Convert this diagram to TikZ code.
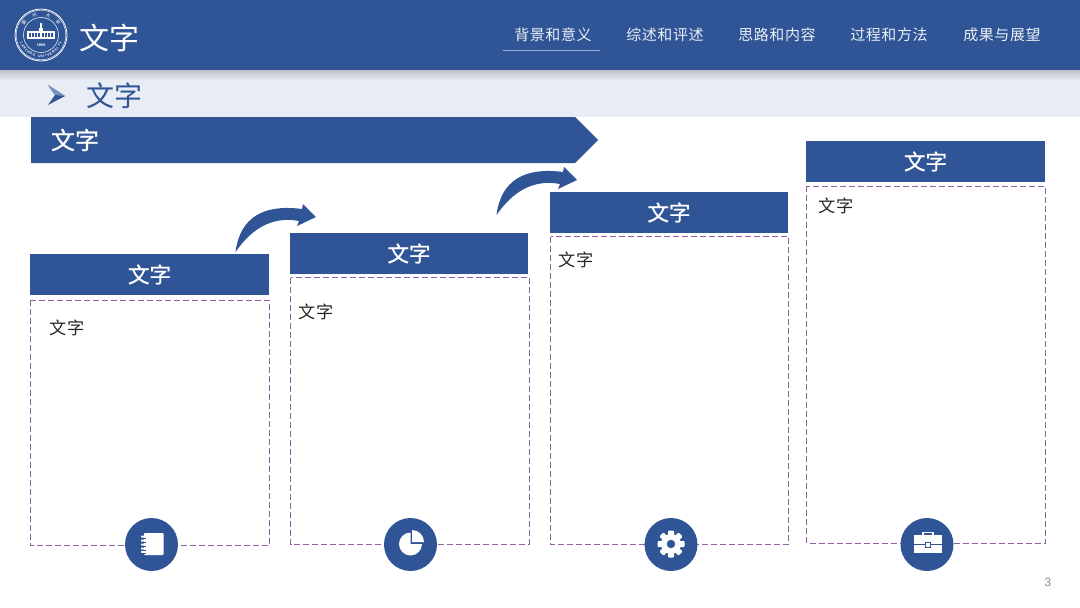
\documentclass[tikz,border=0pt]{standalone}
\usepackage{fontspec}
\setmainfont{Noto Sans CJK SC}
\setsansfont{Liberation Sans}
\usetikzlibrary{shadings}
\definecolor{navy}{HTML}{2F5597}
\definecolor{band}{HTML}{E8ECF4}
\definecolor{dashc}{HTML}{9060A0}
\tikzset{
  hdr/.style={fill=navy,draw=none,minimum height=41pt,inner sep=0pt,text=white,font=\fontsize{21.5}{21}\selectfont\addfontfeature{FakeBold=0.8}},
  dbox/.style={draw=dashc,line width=1pt,dash pattern=on 6pt off 3pt,fill=white},
  body/.style={font=\fontsize{17.2}{17}\selectfont,text=black!85,inner sep=0pt},
  disc/.style={circle,fill=navy,minimum size=53pt,inner sep=0pt},
  nav/.style={font=\fontsize{15}{15}\selectfont,text=white!90!navy,inner sep=0pt},
  ico/.style={fill=white,draw=none},
  arrowshape/.pic={\fill[navy] (235.5,252) .. controls (240,217) and (264,204) .. (302,209) -- (303,204) -- (316,217) -- (297,226) -- (299,221) .. controls (273,216) and (252,228) .. (235.5,252) -- cycle;}
}
\begin{document}
\begin{tikzpicture}[x=1pt,y=-1pt]
\useasboundingbox (0,0) rectangle (1080,608);
\fill[white] (0,0) rectangle (1080,608);
% bars
\fill[band] (0,70) rectangle (1080,117);
\shade[top color=black!18!band,bottom color=band] (0,70) rectangle (1080,80);
\fill[navy] (0,0) rectangle (1080,70);
% logo
\begin{scope}[shift={(41,35)},white]
  \draw[line width=0.8pt] (0,0) circle (26);
  \draw[line width=0.4pt] (0,0) circle (24.8);
  \draw[line width=0.5pt] (0,0) circle (17.5);
  \fill (-14,-4) rectangle (14,3.5);
  \fill (-2,-7) rectangle (2,-4);
  \fill (-0.6,-12) rectangle (0.6,-7);
  \foreach \a in {-11,-8,-5,-2,2,5,8,11} {\fill[navy] (\a-0.8,-2.5) rectangle (\a+0.8,2);}
  \foreach \a/\c in {143/蘭,108/州,70/大,36/學}{
    \node[font=\fontsize{4.5}{5}\selectfont,inner sep=0pt,rotate=\a-90] at (-\a:21) {\c};}
  \node[font=\sffamily\bfseries\fontsize{3.8}{4}\selectfont,inner sep=0pt] at (0,10) {1909};
  \foreach \c [count=\i from 0] in {L,A,N,Z,H,O,U,{ },U,N,I,V,E,R,S,I,T,Y}{
    \pgfmathsetmacro{\th}{202+\i*8}
    \node[font=\sffamily\bfseries\fontsize{3.4}{4}\selectfont,inner sep=0pt,rotate=\th+90] at (-\th:21) {\c};}
\end{scope}
\node[font=\fontsize{30}{30}\selectfont,text=white,inner sep=0pt] (title) at (109,38) {文字};
% nav
\foreach \n/\x/\t in {a/553/背景和意义,b/665/综述和评述,c/777/思路和内容,d/889/过程和方法,e/1002/成果与展望}{
  \node[nav] (nav\n) at (\x,35) {\addfontfeature{LetterSpace=4}\t};}
\coordinate (ua) at (503,50.5); \coordinate (ub) at (600,50.5);
\draw[color=white!50!navy,line width=1.6pt] (ua) -- (ub);
% sub title
\fill[navy] (48,85) -- (65,96) -- (48,105) -- (55,95) -- cycle;
\fill[white!35!navy] (48,85) -- (65,96) -- (55,95) -- cycle;
\node[font=\fontsize{28}{28}\selectfont,text=navy,inner sep=0pt] (sub) at (114,96) {文字};
% banner
\fill[navy] (31,117) -- (575,117) -- (598,140) -- (575,163) -- (31,163) -- cycle;
\node[font=\fontsize{24}{24}\selectfont\addfontfeature{FakeBold=0.8},text=white,inner sep=0pt] (ban) at (75,140) {文字};
% curved arrows
\pic {arrowshape};
\pic[shift={(261,-37)}] {arrowshape};
% boxes
\node[hdr,minimum width=239pt] (h1) at (149.5,274.5) {\raisebox{-1.5pt}{文字}};
\node[hdr,minimum width=238pt] (h2) at (409,253.5) {文字};
\node[hdr,minimum width=238pt] (h3) at (669,212.5) {文字};
\node[hdr,minimum width=239pt] (h4) at (925.5,161.5) {文字};
\draw[dbox] (30.5,300) rectangle (269,545.5);
\draw[dbox] (290.5,277.5) rectangle (529,544);
\draw[dbox] (550.5,236.5) rectangle (788.5,544);
\draw[dbox] (806.5,186) rectangle (1045,543);
\node[body] (t1) at (67,327.5) {文字};
\node[body] (t2) at (316,311.5) {文字};
\node[body] (t3) at (576,260) {文字};
\node[body] (t4) at (836,205.5) {文字};
% discs
\node[disc] (c1) at (151.5,544.5) {};
\node[disc] (c2) at (410.5,544.5) {};
\node[disc] (c3) at (671,544.5) {};
\node[disc] (c4) at (927,544.5) {};
% notebook
\fill[ico,rounded corners=0.8pt] (144,533) rectangle (163.5,555);
\foreach \y in {535.5,539.5,543.5,547.5,551}{\fill[ico,rounded corners=0.6pt] (141,\y) rectangle (146,\y+2);\fill[navy] (141,\y+2) rectangle (146,\y+3);}
% pie
\fill[ico] (410.5,532.5) arc[start angle=-90,end angle=-360,radius=11.5] -- (410.5,544) -- cycle;
\fill[ico] (412,530) -- (412,542) -- (424,542) arc[start angle=0,end angle=-90,radius=12] -- cycle;
% gear
\fill[ico] (671,544) circle (10);
\foreach \a in {0,45,...,315}{
  \fill[ico,rounded corners=1pt,shift={(671,544)},rotate=\a] (-3,-13.5) rectangle (3,-7);}
\fill[navy] (671,544) circle (4.2);
% briefcase
\draw[white,line width=1.2pt] (923,535) -- (923,532.5) -- (933,532.5) -- (933,535);
\fill[ico] (914,535) rectangle (942,553);
\fill[navy] (914,544.2) rectangle (942,545);
\fill[ico] (925.5,542.5) rectangle (930.5,547);
\draw[navy,line width=0.5pt] (925.5,542.5) rectangle (930.5,547);
% page number
\node[font=\sffamily\fontsize{12}{12}\selectfont,text=black!45,inner sep=0pt] (pg) at (1048,582) {3};
\end{tikzpicture}
\end{document}
